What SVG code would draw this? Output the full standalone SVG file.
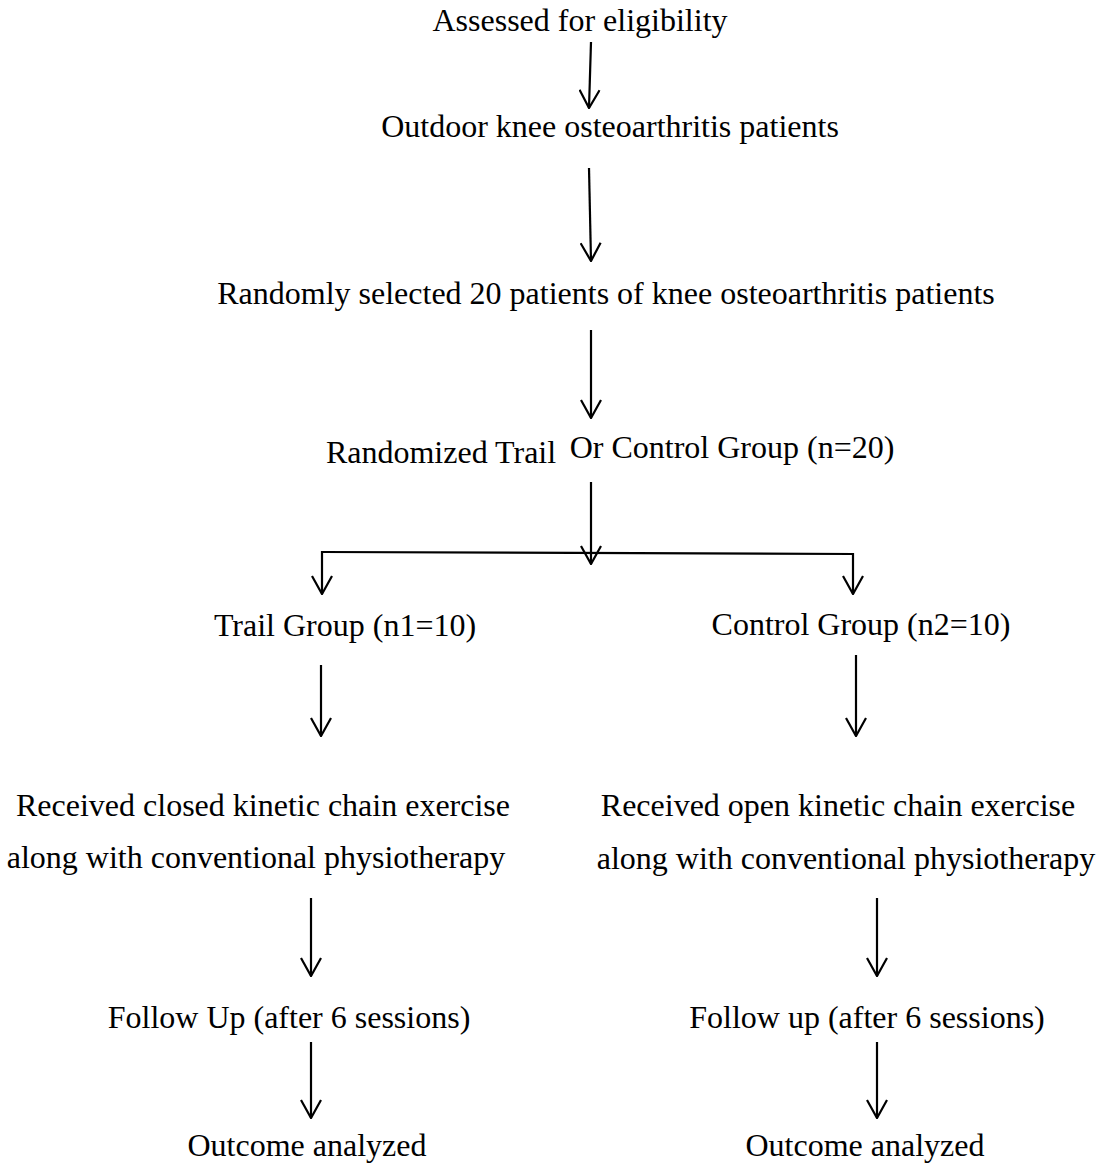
<svg xmlns="http://www.w3.org/2000/svg" width="1100" height="1165" viewBox="0 0 1100 1165">
<defs>
<style>
text{font-family:"Liberation Serif","Times New Roman",serif;font-size:32px;fill:#000;text-anchor:middle}
.c line{stroke:#000;stroke-width:2.2;fill:none}
</style>
<marker id="ah" viewBox="0 0 20 22" refX="19" refY="11" markerWidth="20" markerHeight="22" markerUnits="userSpaceOnUse" orient="auto">
<path d="M1,1 L19,11 L1,21" fill="none" stroke="#000" stroke-width="2.2"/>
</marker>
</defs>
<rect width="1100" height="1165" fill="#fff"/>
<g id="n1"><text x="580" y="31">Assessed for eligibility</text></g>
<g id="n2"><text x="610" y="137">Outdoor knee osteoarthritis patients</text></g>
<g id="n3"><text x="606" y="304">Randomly selected 20 patients of knee osteoarthritis patients</text></g>
<g id="n4"><text x="441" y="463">Randomized Trail</text><text x="732" y="458">Or Control Group (n=20)</text></g>
<g id="n5"><text x="345" y="636">Trail Group (n1=10)</text></g>
<g id="n6"><text x="861" y="635">Control Group (n2=10)</text></g>
<g id="n7"><text x="263" y="816">Received closed kinetic chain exercise</text><text x="256" y="868">along with conventional physiotherapy</text></g>
<g id="n8"><text x="838" y="816">Received open kinetic chain exercise</text><text x="846" y="869">along with conventional physiotherapy</text></g>
<g id="n9"><text x="289" y="1028">Follow Up (after 6 sessions)</text></g>
<g id="n10"><text x="867" y="1028">Follow up (after 6 sessions)</text></g>
<g id="n11"><text x="307" y="1156">Outcome analyzed</text></g>
<g id="n12"><text x="865" y="1156">Outcome analyzed</text></g>
<g id="connectors" class="c">
<line x1="591" y1="42" x2="589" y2="108" marker-end="url(#ah)"/>
<line x1="589" y1="168" x2="591" y2="261" marker-end="url(#ah)"/>
<line x1="591" y1="330" x2="591" y2="418" marker-end="url(#ah)"/>
<line x1="591" y1="482" x2="591" y2="564" marker-end="url(#ah)"/>
<line x1="322" y1="552" x2="853" y2="554"/>
<line x1="322" y1="551" x2="322" y2="594" marker-end="url(#ah)"/>
<line x1="853" y1="553" x2="853" y2="594" marker-end="url(#ah)"/>
<line x1="321" y1="665" x2="321" y2="736" marker-end="url(#ah)"/>
<line x1="856" y1="655" x2="856" y2="736" marker-end="url(#ah)"/>
<line x1="311" y1="898" x2="311" y2="976" marker-end="url(#ah)"/>
<line x1="877" y1="898" x2="877" y2="976" marker-end="url(#ah)"/>
<line x1="311" y1="1042" x2="311" y2="1118" marker-end="url(#ah)"/>
<line x1="877" y1="1042" x2="877" y2="1118" marker-end="url(#ah)"/>
</g>
</svg>
